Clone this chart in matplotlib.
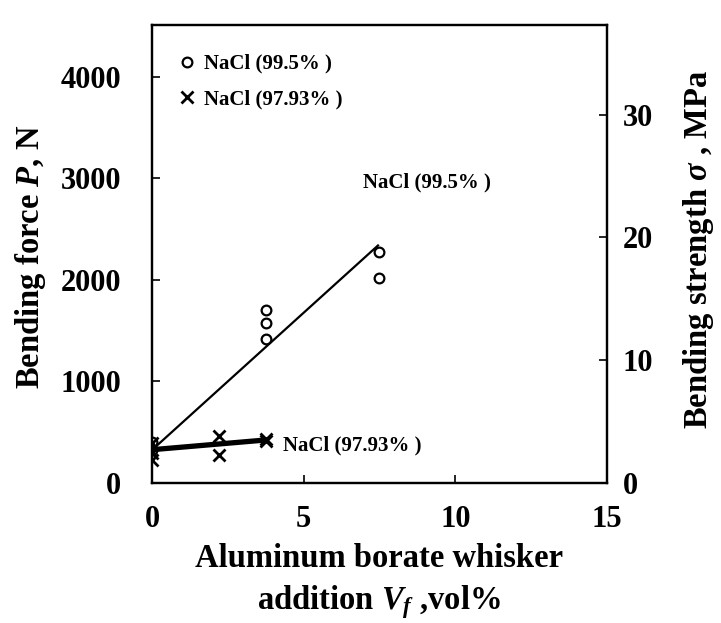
import matplotlib
matplotlib.use("Agg")
import matplotlib.pyplot as plt
from matplotlib.lines import Line2D

# ---- data ----
circ_x = [0.0, 0.0, 3.76, 3.76, 3.76, 7.48, 7.48]
circ_y = [400, 330, 1704, 1576, 1419, 2276, 2020]
cross_x = [0.0, 0.0, 0.0, 2.22, 2.22, 3.76, 3.76]
cross_y = [390, 300, 230, 463, 276, 433, 410]
fit1_x = [0.0, 7.45]
fit1_y = [325, 2340]
fit2_x = [0.0, 3.76]
fit2_y = [328, 424]
x_ticks = [0, 5, 10, 15]
yl_ticks = [0, 1000, 2000, 3000, 4000]
yr_ticks = [0, 10, 20, 30]
n_per_mpa = 121.0
label_a = "NaCl (99.5% )"
label_b = "NaCl (97.93% )"

plt.rcParams['font.family'] = ['Liberation Serif', 'DejaVu Serif']
plt.rcParams['font.weight'] = 'bold'
plt.rcParams['mathtext.fontset'] = 'custom'
plt.rcParams['mathtext.rm'] = 'Liberation Serif:bold'
plt.rcParams['mathtext.it'] = 'Liberation Serif:italic:bold'
plt.rcParams['mathtext.bf'] = 'Liberation Serif:bold'

TICK_FS = 22
LAB_FS = 23.5

fig = plt.figure(figsize=(7.21, 6.23), dpi=100)
ax = fig.add_axes([152/721, 1-483/623, (607-152)/721, (483-25)/623])

ax.plot(fit1_x, fit1_y, color='black', lw=1.6, zorder=2)
ax.plot(fit2_x, fit2_y, color='black', lw=3.8, zorder=2)
ax.plot(circ_x, circ_y, linestyle='none', marker='o', markersize=7,
        markerfacecolor='none', markeredgecolor='black', markeredgewidth=1.6, zorder=3)
ax.plot(cross_x, cross_y, linestyle='none', marker='x', markersize=9,
        color='black', markeredgewidth=2.0, zorder=3)

ax.set_xlim(0, 15)
ax.set_ylim(0, 4512)
ax.set_xticks(x_ticks)
ax.set_yticks(yl_ticks)
ax.set_xticklabels([str(v) for v in x_ticks], fontsize=TICK_FS, fontweight='bold')
ax.set_yticklabels([str(v) for v in yl_ticks], fontsize=TICK_FS, fontweight='bold')
ax.tick_params(axis='y', direction='in', length=6, width=1.2, pad=22)
ax.tick_params(axis='x', direction='in', length=6, width=1.2, pad=16)

for s in ax.spines.values():
    s.set_linewidth(1.6)

ax2 = ax.twinx()
ax2.set_ylim(0, 4512 / n_per_mpa)
ax2.set_yticks(yr_ticks)
ax2.set_yticklabels([str(v) for v in yr_ticks], fontsize=TICK_FS, fontweight='bold')
ax2.tick_params(axis='y', direction='in', length=6, width=1.2, pad=11.5)
for s in ax2.spines.values():
    s.set_linewidth(1.6)

yl = ax.set_ylabel(r"Bending force $P$, N", fontsize=LAB_FS, fontweight='bold')
yl.set_verticalalignment('center')
yl.set_horizontalalignment('center')
ax.yaxis.set_label_coords((31 - 152) / 455, 0.493)

yr = ax2.set_ylabel(r"Bending strength $\sigma$ , MPa", fontsize=LAB_FS, fontweight='bold')
yr.set_verticalalignment('center')
yr.set_horizontalalignment('center')
ax2.yaxis.set_label_coords((699 - 152) / 455, 0.51)

xl = ax.set_xlabel("Aluminum borate whisker\n" + r"addition $V_f$ ,vol%", fontsize=LAB_FS,
                   fontweight='bold', linespacing=1.38)
xl.set_verticalalignment('center')
ax.xaxis.set_label_coords(0.5, -(582 - 483) / 458)

ax.text(6.96, 2956, label_a, fontsize=15, fontweight='bold', ha='left', va='center')
ax.text(4.32, 374, label_b, fontsize=15, fontweight='bold', ha='left', va='center')

handles = [
    Line2D([], [], linestyle='none', marker='o', markersize=7, markerfacecolor='none',
           markeredgecolor='black', markeredgewidth=1.6),
    Line2D([], [], linestyle='none', marker='x', markersize=9, color='black',
           markeredgewidth=2.0),
]
ax.legend(handles, [label_a, label_b], loc='upper left', frameon=False,
          prop={'family': 'Liberation Serif', 'weight': 'bold', 'size': 15},
          handlelength=0.8, handletextpad=0.4, labelspacing=0.75,
          bbox_to_anchor=(0.04, 0.955), borderaxespad=0.0)

fig.savefig("out.png", dpi=100)
